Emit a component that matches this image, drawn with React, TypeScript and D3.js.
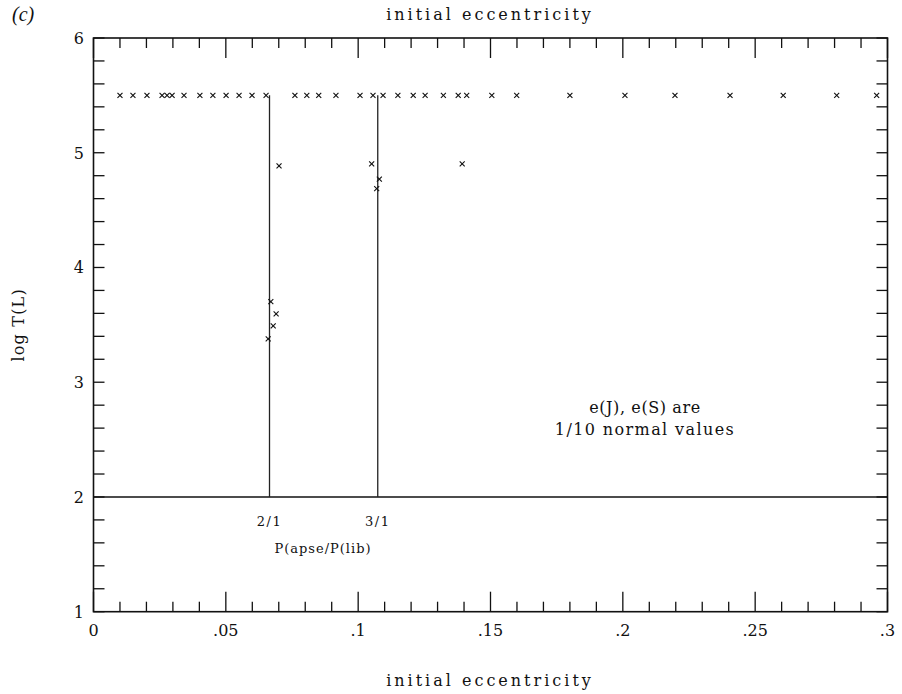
import React from "react";
import * as d3 from "d3";

// Fixed log T(L) = 5.5 runs (survived to end of integration)
const survivorE = [
  0.01, 0.0149, 0.0202, 0.0259, 0.0278, 0.0297, 0.0342, 0.0402, 0.0451, 0.0501,
  0.055, 0.0599, 0.0652, 0.0761, 0.0806, 0.0851, 0.0916, 0.1007, 0.1056, 0.1094,
  0.115, 0.1208, 0.1253, 0.1322, 0.1378, 0.141, 0.1505, 0.1599, 0.18, 0.2008,
  0.2197, 0.2405, 0.2606, 0.2808, 0.2959,
];
const survivorLogT = survivorE.map(() => 5.5);

// Runs that ended early near the resonances
const lostE = [0.0701, 0.067, 0.069, 0.0679, 0.066, 0.1051, 0.108, 0.107, 0.1393];
const lostLogT = [4.886, 3.703, 3.595, 3.491, 3.378, 4.903, 4.77, 4.688, 4.903];

// Resonance markers P(apse)/P(lib)
const resonanceE = [0.0665, 0.1074];
const resonanceLabels = ["2/1", "3/1"];

const xTickValues = [0, 0.05, 0.1, 0.15, 0.2, 0.25, 0.3];
const xTickLabels = ["0", ".05", ".1", ".15", ".2", ".25", ".3"];
const yTickValues = [1, 2, 3, 4, 5, 6];

const W = 902;
const H = 694;
const left = 93.5;
const right = 887.5;
const top = 38;
const bottom = 611.7;

export default function App() {
  const x = d3.scaleLinear().domain([0, 0.3]).range([left, right]);
  const y = d3.scaleLinear().domain([1, 6]).range([bottom, top]);

  const xMinor = d3.range(0, 0.3001, 0.01).map((v) => +v.toFixed(3));
  const yMinor = d3.range(1, 6.001, 0.2).map((v) => +v.toFixed(2));
  const isMajorX = (v: number) => Math.abs(v / 0.05 - Math.round(v / 0.05)) < 1e-6;

  const pts = [
    ...survivorE.map((e, i) => [e, survivorLogT[i]]),
    ...lostE.map((e, i) => [e, lostLogT[i]]),
  ];
  const s = 2.5;
  const serif = "'DejaVu Serif', serif";

  return (
    <svg width={W} height={H} style={{ position: "absolute", left: 0, top: 0, background: "#fff" }}>
      <rect x={0} y={0} width={W} height={H} fill="#fff" />
      {/* frame */}
      <rect x={left} y={top} width={right - left} height={bottom - top} fill="none" stroke="#111" strokeWidth={1.6} />

      {/* x ticks, bottom and top */}
      {xMinor.map((v) => {
        const len = isMajorX(v) ? 20 : 10;
        return (
          <g key={"xt" + v} stroke="#111" strokeWidth={1.3}>
            <line x1={x(v)} x2={x(v)} y1={bottom} y2={bottom - len} />
            <line x1={x(v)} x2={x(v)} y1={top} y2={top + len} />
          </g>
        );
      })}
      {/* y ticks, left and right */}
      {yMinor.map((v) => (
        <g key={"yt" + v} stroke="#111" strokeWidth={1.3}>
          <line x1={left} x2={left + 11} y1={y(v)} y2={y(v)} />
          <line x1={right} x2={right - 11} y1={y(v)} y2={y(v)} />
        </g>
      ))}

      {/* tick labels */}
      {xTickValues.map((v, i) => (
        <text key={"xl" + v} x={x(v)} y={636} textAnchor="middle" fontFamily={serif} fontSize={16} fill="#111">
          {xTickLabels[i]}
        </text>
      ))}
      {yTickValues.map((v) => (
        <text key={"yl" + v} x={84} y={y(v) + 6} textAnchor="end" fontFamily={serif} fontSize={16} fill="#111">
          {v}
        </text>
      ))}

      {/* titles */}
      <text x={490} y={20} textAnchor="middle" fontFamily={serif} fontSize={16} letterSpacing={3} fill="#111">
        initial eccentricity
      </text>
      <text x={490} y={686} textAnchor="middle" fontFamily={serif} fontSize={16} letterSpacing={3} fill="#111">
        initial eccentricity
      </text>
      <text
        transform={`translate(24,${(top + bottom) / 2}) rotate(-90)`}
        textAnchor="middle"
        fontFamily={serif}
        fontSize={16}
        letterSpacing={1.2}
        fill="#111"
      >
        log T(L)
      </text>
      <text x={12} y={21} fontFamily="'Liberation Serif', serif" fontStyle="italic" fontSize={20} fill="#111">
        (c)
      </text>

      {/* lower boundary and resonance lines */}
      <line x1={x(0)} x2={x(0.3)} y1={y(2)} y2={y(2)} stroke="#111" strokeWidth={1.5} />
      {resonanceE.map((e, i) => (
        <g key={"r" + i}>
          <line x1={x(e)} x2={x(e)} y1={y(2)} y2={y(5.5)} stroke="#222" strokeWidth={1.3} />
          <text x={x(e)} y={526} textAnchor="middle" fontFamily={serif} fontSize={13} letterSpacing={1.5} fill="#111">
            {resonanceLabels[i]}
          </text>
        </g>
      ))}
      <text x={323} y={553} textAnchor="middle" fontFamily={serif} fontSize={13} letterSpacing={1} fill="#111">
        P(apse/P(lib)
      </text>

      {/* note */}
      <text x={645} y={413} textAnchor="middle" fontFamily={serif} fontSize={16} letterSpacing={0.6} fill="#111">
        e(J), e(S) are
      </text>
      <text x={645} y={435} textAnchor="middle" fontFamily={serif} fontSize={16} letterSpacing={1.4} fill="#111">
        1/10 normal values
      </text>

      {/* crosses */}
      {pts.map(([e, t], i) => (
        <g key={"p" + i} stroke="#111" strokeWidth={1.1}>
          <line x1={x(e) - s} x2={x(e) + s} y1={y(t) - s} y2={y(t) + s} />
          <line x1={x(e) - s} x2={x(e) + s} y1={y(t) + s} y2={y(t) - s} />
        </g>
      ))}
    </svg>
  );
}
